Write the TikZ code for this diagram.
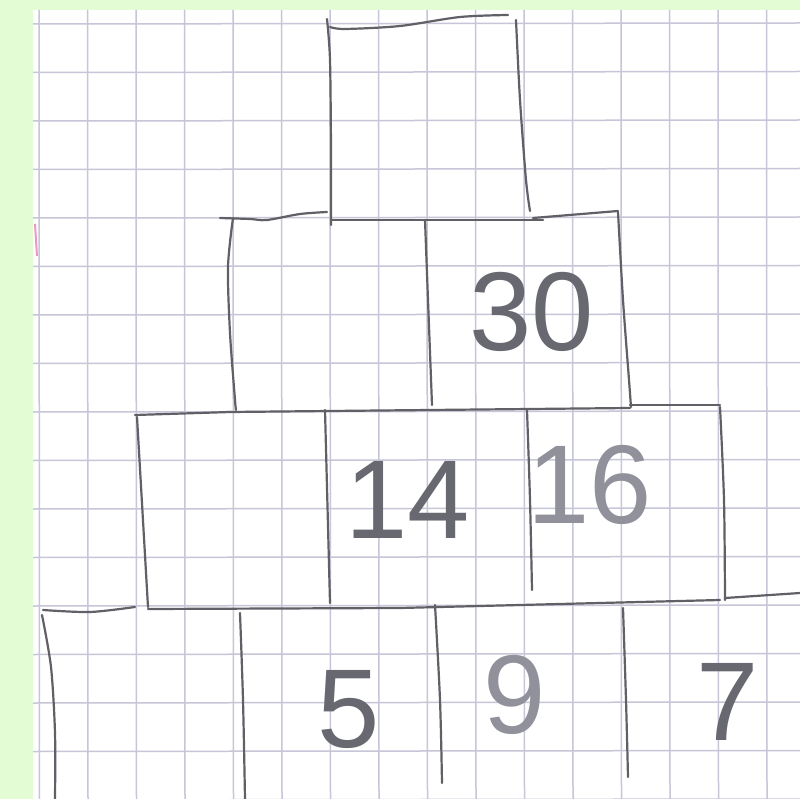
\documentclass[tikz,border=0pt]{standalone}
\usepackage{fontspec}
\setmainfont{Liberation Sans}
\definecolor{bggreen}{RGB}{228,252,212}
\definecolor{gridc}{RGB}{198,198,216}
\definecolor{pencil}{RGB}{96,96,102}
\definecolor{digitc}{RGB}{104,104,112}
\definecolor{pencillight}{RGB}{145,145,156}
\definecolor{pinkmark}{RGB}{240,150,200}
\begin{document}
\begin{tikzpicture}[x=1pt,y=-1pt,
  gridline/.style={gridc, line width=1.5pt},
  pen/.style={pencil, line width=2.2pt, line cap=round, line join=round},
  digit/.style={digitc, font=\fontsize{112}{112}\selectfont, inner sep=0pt},
  faint/.style={pencillight}]
\useasboundingbox (0,0) rectangle (800,799);
\fill[bggreen] (0,0) rectangle (800,799);
\fill[white] (33,10) rectangle (800,799);
\begin{scope}
  \clip (33,10) rectangle (800,799);
  \foreach \k in {0,...,15} {
    \draw[gridline] ({39+48.5*\k},10) -- ({39.5+48.5*\k},799);
  }
  \foreach \k in {0,...,16} {
    \draw[gridline] (33,{24+48.5*\k}) -- (800,{23+48.5*\k});
  }
\end{scope}
% pink mark at left edge
\draw[pinkmark, line width=2pt] (35,224) -- (37,256);
% top box
\draw[pen] plot[smooth] coordinates {(327,19) (330,60) (331,150) (331,225)};
\draw[pen] plot[smooth] coordinates {(330,27) (345,29) (400,26) (460,17) (508,15)};
\draw[pen] plot[smooth] coordinates {(516,20) (520,100) (526,180) (530,211)};
% row 2
\draw[pen] plot[smooth] coordinates {(220,218) (250,219) (267,220) (300,214) (327,212)};
\draw[pen] (331,220) -- (543,220);
\draw[pen] (533,218) -- (618,211);
\draw[pen] plot[smooth] coordinates {(233,218) (228,267) (230,333) (235,400) (236,410)};
\draw[pen] plot[smooth] coordinates {(425,220) (428,300) (432,405)};
\draw[pen] plot[smooth] coordinates {(618,212) (623,300) (629,380) (631,407)};
% row 3
\draw[pen] (135,415) -- (230,412);
\draw[pen] (230,412) -- (630,408);
\draw[pen] (630,405) -- (720,405);
\draw[pen] (137,417) -- (148,607);
\draw[pen] (325,410) -- (330,603);
\draw[pen] plot[smooth] coordinates {(527,410) (530,500) (532,590)};
\draw[pen] plot[smooth] coordinates {(720,407) (724,500) (725,600)};
\draw[pen] (148,609) -- (400,608);
\draw[pen] (400,608) -- (720,600);
\draw[pen] (725,598) -- (800,593);
% row 4
\draw[pen] plot[smooth] coordinates {(43,610) (90,612) (135,607)};
\draw[pen] plot[smooth] coordinates {(42,615) (51,667) (55,733) (55,799)};
\draw[pen] plot[smooth] coordinates {(240,613) (243,700) (245,799)};
\draw[pen] plot[smooth] coordinates {(435,605) (440,700) (442,783)};
\draw[pen] plot[smooth] coordinates {(623,608) (626,700) (628,777)};
% numbers
\node[digit] (n30) at (532,312) {30};
\node[digit] (n14) at (408,500) {14};
\node[digit, faint] (n16) at (590,485) {16};
\node[digit] (n5) at (349,710) {5};
\node[digit, faint] (n9) at (515,695) {9};
\node[digit] (n7) at (728,702) {7};
\end{tikzpicture}
\end{document}
